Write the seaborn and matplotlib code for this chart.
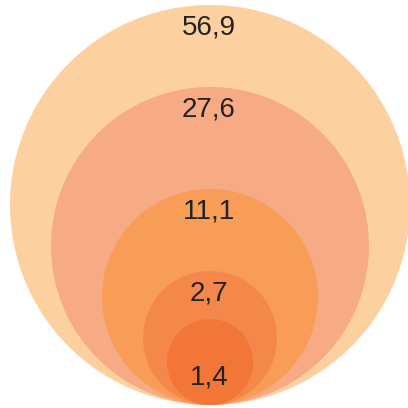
import matplotlib
matplotlib.use("Agg")
import matplotlib.pyplot as plt
from matplotlib.patches import Circle
import seaborn as sns

# values shown in the nested circles, outermost first
values = [56.9, 27.6, 11.1, 2.7, 1.4]
labels = ["56,9", "27,6", "11,1", "2,7", "1,4"]
colors = ["#FDD09F", "#F7AB85", "#F89D57", "#F4874A", "#F27637"]

# layout (pixels in a 408x408 canvas)
radii = [200, 159, 108, 67, 43]
label_offset = [23, 22, 22, 22, 58]
cx, bottom = 210, 405

sns.set_theme(style="white")
plt.rcParams['font.family'] = ['Liberation Sans', 'DejaVu Sans']

fig = plt.figure(figsize=(4.08, 4.08), dpi=100)
ax = fig.add_axes([0, 0, 1, 1])
ax.set_xlim(0, 408)
ax.set_ylim(408, 0)
ax.set_aspect('equal')
ax.axis('off')

for val, lab, col, r, off in zip(values, labels, colors, radii, label_offset):
    ax.add_patch(Circle((cx, bottom - r), r, facecolor=col, edgecolor='none'))
    top = bottom - 2 * r
    ax.text(cx - 1, top + off, lab, ha='center', va='center', fontsize=20, color='#222222')

fig.savefig('out.png', dpi=100)
